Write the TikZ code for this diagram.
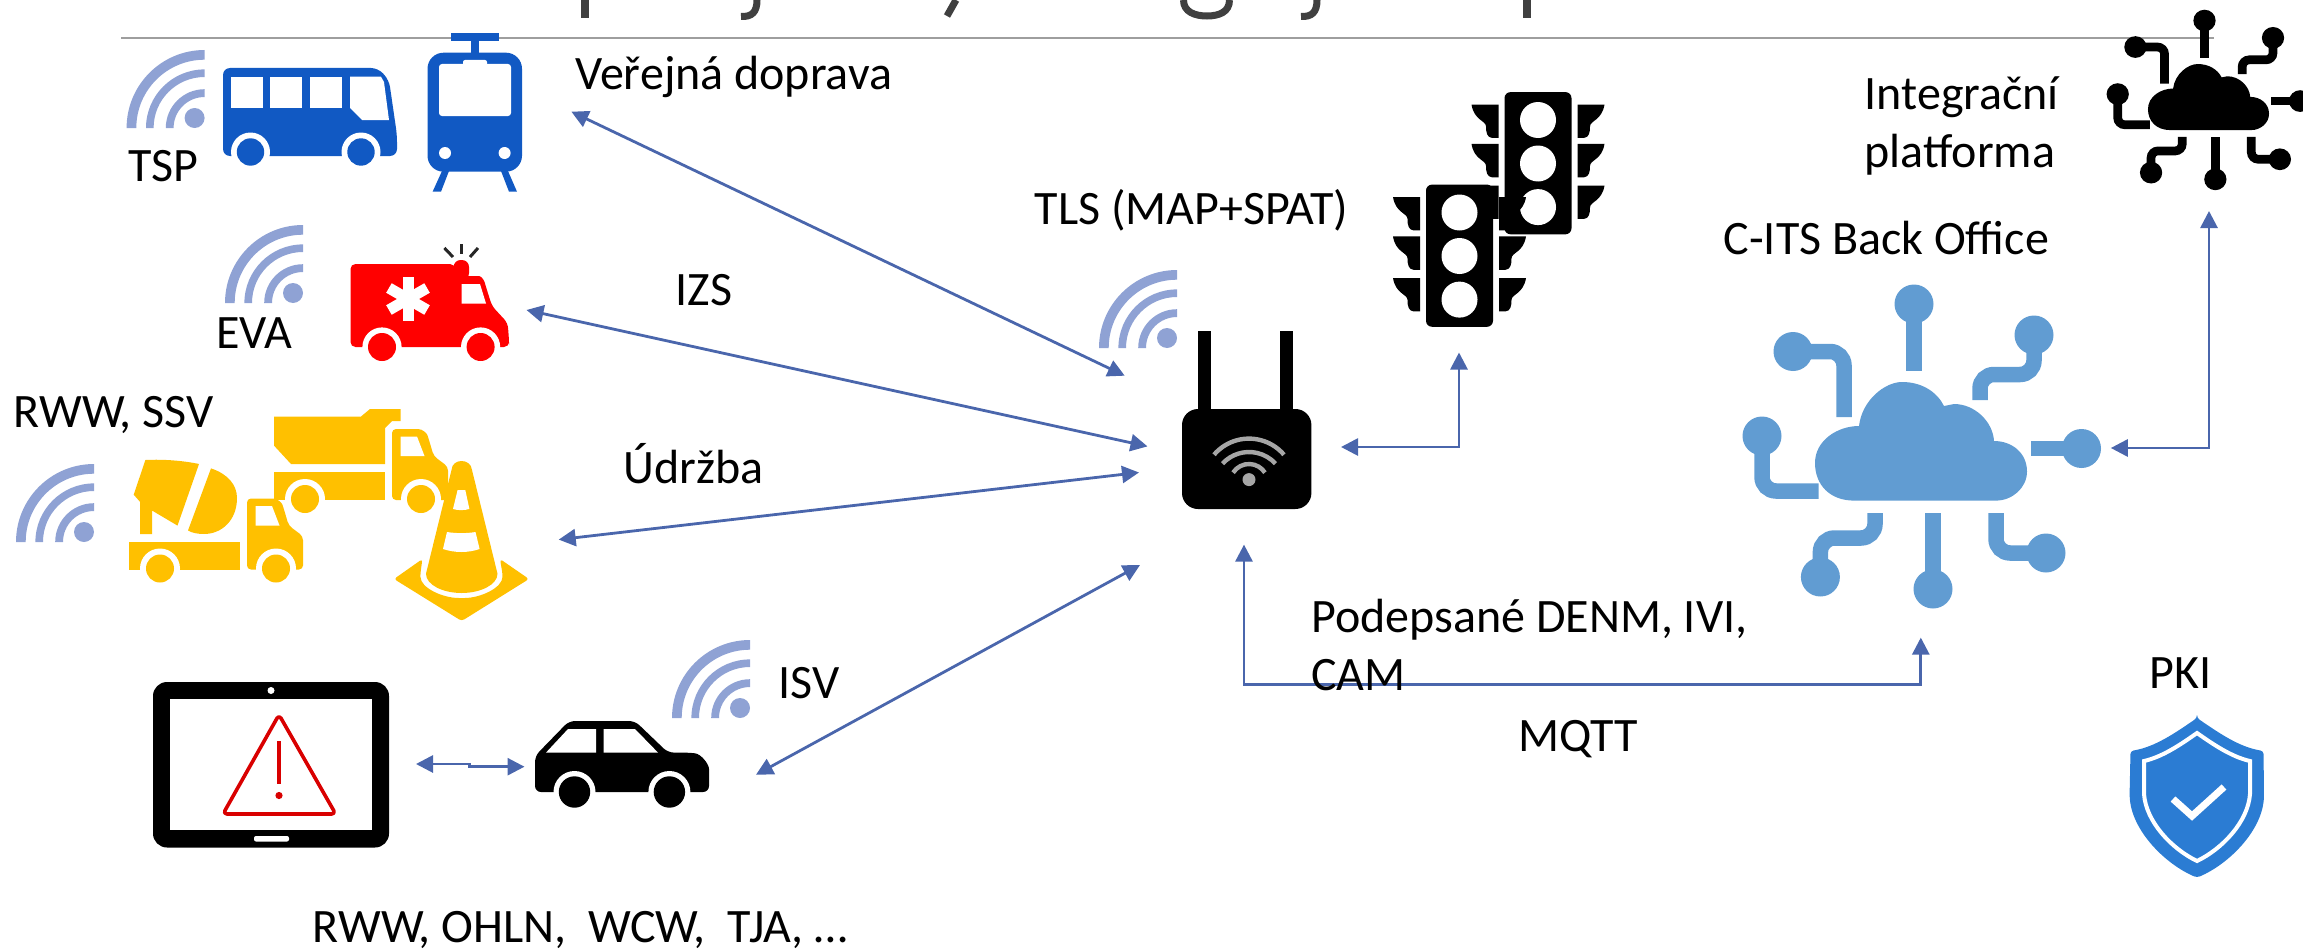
\documentclass[tikz,border=0pt]{standalone}
\usepackage{fontspec}
\setmainfont{Carlito}
\usetikzlibrary{arrows.meta}
\definecolor{linkblue}{HTML}{4A66AC}
\definecolor{wifiblue}{HTML}{8FA2D4}
\definecolor{busblue}{HTML}{1159C3}
\definecolor{ambred}{HTML}{FF0000}
\definecolor{workyellow}{HTML}{FFC000}
\definecolor{cloudblue}{HTML}{619CD2}
\definecolor{shieldblue}{HTML}{2B7CD3}
\definecolor{titlegray}{HTML}{404040}
\tikzset{
	lbl/.style={anchor=base west,inner sep=0pt,font=\fontsize{48}{58}\selectfont},
	link/.style={<->,draw=linkblue,line width=2.8pt},
	wifi/.pic={
		\foreach \ro/\ri in {78/68.3,58.6/51,38.8/31}{
			\fill(-\ro,0) arc(180:270:\ro) -- (0,-\ri) arc(270:180:\ri) -- cycle;
		}
		\fill(-10,-10) circle(10);
	},
	truck/.pic={
		\fill(-118,0) rectangle (-7,28);
		\fill[rounded corners=4pt](0,-43) -- (22,-43) .. controls (31,-43) and (35,-38) .. (36.6,-33.4) -- (41.7,-16) -- (56,-5.3) -- (56,28) -- (0,28) -- cycle;
		\fill[white](8.5,-35.5) -- (25,-35.5) -- (32.5,-16) -- (8.5,-16) -- cycle;
		\foreach \wx in {-87,29}{
			\fill[white](\wx,27) circle(20);
			\fill(\wx,27) circle(14);
		}
	},
	cloudnet/.pic={
		\fill[sharp corners](-46,50.6) .. controls (-70,50.6) and (-85,35) .. (-85,13) .. controls (-85,-10) and (-62,-24) .. (-41,-24) .. controls (-38,-50) and (-15,-68) .. (2,-68) .. controls (22,-68) and (37,-58) .. (44,-44) -- (54,-46) .. controls (75,-46) and (93,-28) .. (94,-9) .. controls (112,-9) and (127,3) .. (127,21.5) .. controls (127,38) and (112,50.6) .. (96,50.6) -- cycle;
		\draw(14,-146) -- (14,-79);
		\draw(-107,-98.5) -- (-56,-98.5) -- (-56,-33);
		\draw(-138,-14) -- (-138,41) -- (-81.5,41);
		\draw(134,-115) -- (134,-75.5) -- (80,-75.5) -- (80,-50);
		\draw(181.5,-1.5) -- (131,-1.5);
		\draw(146,103) -- (96,103) -- (96,63);
		\draw(33,139) -- (33,63);
		\draw(-79.6,127) -- (-79.6,88) -- (-25,88) -- (-25,63);
		\foreach \dx/\dy in {14/-146,-107/-98.5,-138/-14,134/-115,181.5/-1.5,146/103,33/139,-79.6/127}{
			\fill(\dx,\dy) circle(19.5);
		}
	},
	signal/.pic={
		\foreach \sx in {1,-1}{
			\foreach \t in {-59,-19.6,22}{
				\fill[xscale=\sx](-66.5,\t) -- (-39.5,\t) -- (-39.5,\t+33.4) -- (-46,\t+33.4) .. controls (-51,\t+33) and (-52,\t+28) .. (-52,\t+22) .. controls (-52,\t+16) and (-64,\t+16) .. (-66.5,\t) -- cycle;
			}
		}
		\fill[rounded corners=6pt](-33.5,-71.4) rectangle (33.5,70.8);
		\foreach \t in {-43.5,0,43.6}{
			\fill[white](0,\t) circle(18);
		}
	}
}
\begin{document}
\begin{tikzpicture}[x=1pt,y=-1pt,>={Stealth[inset=0pt,length=17pt,width=17pt]}]
	\useasboundingbox(0,0) rectangle (2303,950);
	\draw[color=black!38,line width=2pt](121,38.5) -- (2214,38.5);
	\draw[titlegray,line width=8pt](584.7,0) -- (584.7,18);
	\draw[titlegray,line width=7pt](757,0) .. controls (757,12) and (752,17) .. (741,16.5);
	\draw[titlegray,line width=7pt](956,0) -- (947,16);
	\draw[titlegray,line width=7pt](1183.5,0) .. controls (1183.5,12) and (1195,16) .. (1207,16) .. controls (1219,16) and (1229.5,12) .. (1229.5,0);
	\draw[titlegray,line width=7pt](1317,0) .. controls (1317,12) and (1312,17) .. (1301,16.5);
	\draw[titlegray,line width=8pt](1526.8,0) -- (1526.8,18);

	\pic[color=wifiblue] at(204.6,128){wifi};
	\pic[color=wifiblue] at(303,303){wifi};
	\pic[color=wifiblue] at(94,542){wifi};
	\pic[color=wifiblue] at(750,718){wifi};
	\pic[color=wifiblue] at(1177,348){wifi};

	\fill[busblue,rounded corners=7pt](223,68) -- (378,68) -- (389,80) -- (397,135) -- (397,156) -- (223,156) -- cycle;
	\fill[white](231,76.7) rectangle (263,108);
	\fill[white](270,76.7) rectangle (302,108);
	\fill[white](310,76.7) rectangle (342,108);
	\fill[white](350,76.7) -- (381,76.7) -- (384,82) -- (389,120) -- (362,120) -- (350,108) -- cycle;
	\foreach \wx in {250.5,361}{
		\fill[white](\wx,152) circle(19.5);
		\fill[busblue](\wx,152) circle(13.7);
	}

	\fill[busblue](451,33) rectangle (498.5,41);
	\fill[busblue](471,41) rectangle (478.6,54);
	\fill[busblue,rounded corners=16pt](427.5,52.7) rectangle (522,171.7);
	\fill[white,rounded corners=3pt](439,64) rectangle (511,116);
	\fill[white,rounded corners=2pt](463,60) rectangle (487,70);
	\fill[white](445,153) circle(6);
	\fill[white](504.6,153) circle(6);
	\fill[busblue](442,171) -- (449,171) -- (441,191.7) -- (432.6,191.7) -- cycle;
	\fill[busblue](501,171) -- (508,171) -- (517,191.7) -- (509,191.7) -- cycle;

	\fill[ambred,rounded corners=5pt](350.5,264) -- (455,264) -- (455,276) -- (474,276) .. controls (481,276) and (484,280) .. (486,287) -- (492,306) -- (507.7,323) -- (509,340) -- (509,347) -- (350.5,347) -- cycle;
	\fill[ambred,rounded corners=7pt](453.6,260) rectangle (469,280);
	\fill[white](461.7,284) -- (480,284) -- (486,303.5) -- (461.7,303.5) -- cycle;
	\foreach \a in {0,60,120}{
		\fill[white,rotate around={\a:(408,299)}](402.5,277) rectangle (413.5,321);
	}
	\foreach \wx in {382,480.6}{
		\fill[white](\wx,347) circle(19.6);
		\fill[ambred](\wx,347) circle(14);
	}
	\draw[black!85,line width=3pt](461,244) -- (461,254);
	\draw[black!85,line width=3pt](444.4,248) -- (453,257);
	\draw[black!85,line width=3pt](478,248) -- (470,257);

	\fill[workyellow](274,416.5) -- (361,416.5) -- (370,409) -- (400.5,409) -- (400.5,421) -- (392,421) -- (385,428) -- (385,464) -- (291,464) -- (274,445.6) -- cycle;
	\pic[color=workyellow] at(392,472){truck};
	\fill[workyellow](145.4,460) .. controls (165,459) and (185,461) .. (199,464) -- (177.5,525.6) -- (152,510.5) -- (152,534) -- (140,534) -- (140,501.8) -- (133.7,494.7) -- cycle;
	\fill[workyellow](211,468.4) .. controls (228,474) and (237,485) .. (237,498) .. controls (237,520) and (222,534) .. (204,534) .. controls (198,534) and (192,533) .. (188,530.5) -- cycle;
	\pic[color=workyellow] at(247,541.5){truck};

	\fill[workyellow,rounded corners=3pt](422.4,559) -- (394,579) -- (461.7,621) -- (529,579) -- (500,559) -- (502.5,573.7) .. controls (502.5,588) and (480,598) .. (461.7,598) .. controls (443,598) and (420.4,588) .. (420.4,573.7) -- cycle;
	\fill[workyellow](451.5,470) .. controls (452,458) and (471,458) .. (472,470) -- (497.5,573.7) .. controls (497.5,585) and (480,593) .. (461.7,593) .. controls (443,593) and (426,585) .. (426,573.7) -- cycle;
	\fill[white](457.6,490) -- (465.3,490) -- (469.4,509) .. controls (464,510.5) and (458,510.5) .. (453,509) -- cycle;
	\fill[white](447,532) .. controls (456,533.5) and (467,533.5) .. (475.5,532) -- (479.6,549) .. controls (468,553) and (455,553) .. (443,549) -- cycle;

	\fill[rounded corners=14pt](153,682) rectangle (389,847.5);
	\fill[white](170.4,699) rectangle (372,829.5);
	\fill[white](271,690.5) circle(3.5);
	\fill[white,rounded corners=2pt](254,836) rectangle (289,841.5);
	\draw[red!85!black,line width=3.6pt,line join=round,rounded corners=4pt](279,714.7) -- (335.7,814) -- (223,814) -- cycle;
	\draw[red!85!black,line width=3.6pt](279,741) -- (279,784);
	\fill[red!85!black](279,795.5) circle(3.6);

	\fill[rounded corners=6pt](535,756) -- (569,721) -- (635,721) -- (668,752.6) -- (689,752.6) .. controls (701,754) and (709,764) .. (709,775) -- (709,792) -- (535,792) -- cycle;
	\fill[white](546,752.6) -- (568,729) -- (596,729) -- (596,752.6) -- cycle;
	\fill[white](603.6,729) -- (635,729) -- (658,752.6) -- (603.6,752.6) -- cycle;
	\foreach \wx in {574.5,669.4}{
		\fill[white](\wx,792) circle(21);
		\fill(\wx,792) circle(15.7);
	}

	\fill[rounded corners=16pt](1182,409) rectangle (1311.4,509);
	\fill(1198,331.4) rectangle (1211,415);
	\fill(1280,331.4) rectangle (1293,415);
	\fill[black!35](1249,479.6) circle(6.5);
	\foreach \r/\cy/\ha in {46/484.6/49.5,36/488/47.4,19/483/57}{
		\draw[black!35,line width=4.4pt]([shift={(270-\ha:\r)}]1249,\cy) arc(270-\ha:270+\ha:\r);
	}

	\pic[color=black] at(1538,163.5){signal};
	\pic[color=black] at(1459.5,256){signal};

	\pic[color=cloudblue,line width=15.5pt,rounded corners=14pt] at(1900,450){cloudnet};
	\pic[color=black,line width=8.7pt,rounded corners=7pt,xscale=.571,yscale=.557] at(2196.5,101.9){cloudnet};

	\fill[shieldblue,rounded corners=3pt](2197,718) .. controls (2175,733) and (2155,747) .. (2130.5,751) -- (2129.6,794) .. controls (2131,830) and (2165,864) .. (2197,877.6) .. controls (2229,864) and (2263,830) .. (2264,794) -- (2263.5,751) .. controls (2239,747) and (2219,733) .. (2197,718) -- cycle;
	\draw[white,line width=4pt](2197,733) .. controls (2180,745) and (2162,757) .. (2144,761) -- (2144,794) .. controls (2146,822) and (2172,849) .. (2197,861) .. controls (2222,849) and (2248,822) .. (2250,794) -- (2250,761) .. controls (2232,757) and (2214,745) .. (2197,733) -- cycle;
	\draw[white,line width=7pt](2173,799) -- (2192,816) -- (2224,787);

	\coordinate(ptBusEnd) at(571.4,111.7);
	\coordinate(ptBusRouter) at(1124.7,375.7);
	\coordinate(ptEvaEnd) at(526.5,310);
	\coordinate(ptEvaRouter) at(1147.5,446.4);
	\coordinate(ptWorkEnd) at(558.7,539.6);
	\coordinate(ptWorkRouter) at(1139,472.5);
	\coordinate(ptCarEnd) at(756,774.7);
	\coordinate(ptCarRouter) at(1140,565);
	\coordinate(ptTabletEnd) at(416,764);
	\coordinate(ptTabletA) at(469.4,764);
	\coordinate(ptTabletB) at(469.4,766.7);
	\coordinate(ptTabletCar) at(524.5,766.7);
	\coordinate(ptRouterEast) at(1341,447);
	\coordinate(ptSignalSouth) at(1459,352.5);
	\coordinate(ptRouterSouth) at(1244,544.6);
	\coordinate(ptLowWest) at(1244,684.5);
	\coordinate(ptLowEast) at(1920.8,684.5);
	\coordinate(ptBackSouth) at(1920.8,637.6);
	\coordinate(ptBackEast) at(2110.8,448);
	\coordinate(ptPlatformSouth) at(2209,211);

	\draw[link](ptBusEnd) -- (ptBusRouter);
	\draw[link](ptEvaEnd) -- (ptEvaRouter);
	\draw[link](ptWorkEnd) -- (ptWorkRouter);
	\draw[link](ptCarEnd) -- (ptCarRouter);
	\draw[link](ptTabletEnd) -- (ptTabletA) -- (ptTabletB) -- (ptTabletCar);
	\draw[link](ptRouterEast) -| (ptSignalSouth);
	\draw[link](ptRouterSouth) -- (ptLowWest) -- (ptLowEast) -- (ptBackSouth);
	\draw[link](ptBackEast) -| (ptPlatformSouth);

	\node[lbl](lblBus) at(575,89){Veřejná doprava};
	\node[lbl](lblTsp) at(128.5,181){TSP};
	\node[lbl](lblEva) at(216,348){EVA};
	\node[lbl](lblIzs) at(675.5,305){IZS};
	\node[lbl](lblRww) at(13.5,427){RWW, SSV};
	\node[lbl](lblWork) at(623.5,483){Údržba};
	\node[lbl](lblIsv) at(778.5,698){ISV};
	\node[lbl](lblTls) at(1034.5,224){TLS (MAP+SPAT)};
	\node[lbl,align=left](lblPlatform) at(1864.5,167){Integrační\\platforma};
	\node[lbl](lblBack) at(1723.5,254.5){C-ITS Back Office};
	\node[lbl,align=left](lblDenm) at(1311,690.7){Podepsané DENM, IVI,\\CAM};
	\node[lbl](lblMqtt) at(1518,751.7){MQTT};
	\node[lbl](lblPki) at(2149.5,688){PKI};
	\node[lbl](lblCar) at(312.5,942){RWW, OHLN,\ \ WCW,\ \ TJA, …};
\end{tikzpicture}
\end{document}
